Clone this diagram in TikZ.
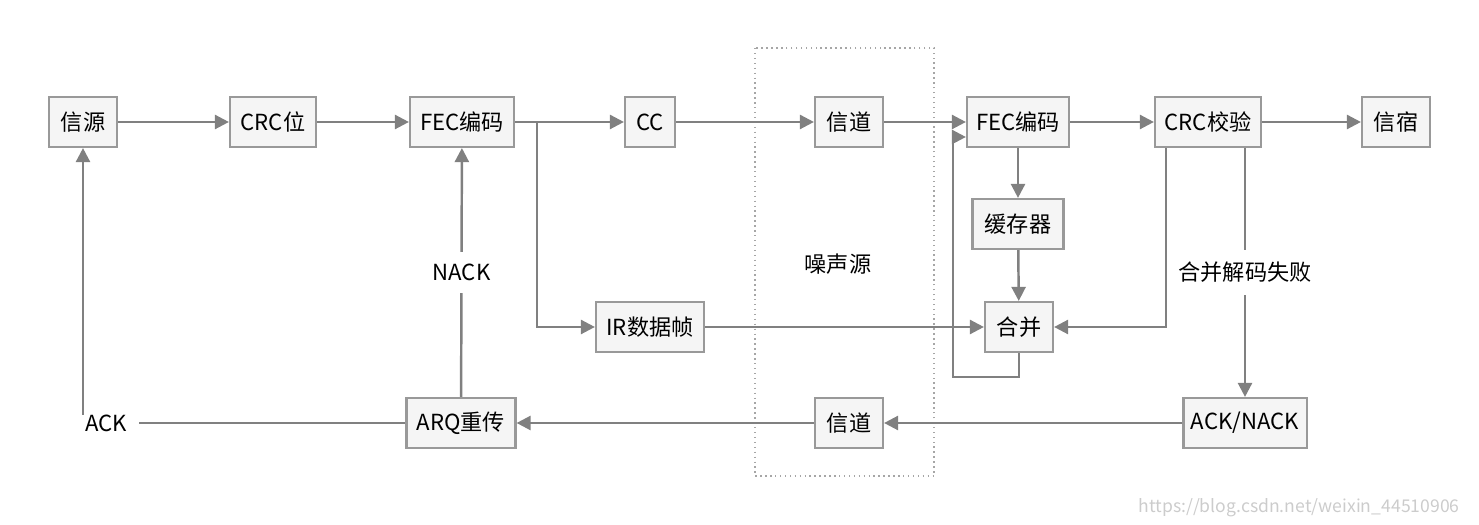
\documentclass[tikz,border=0pt]{standalone}
\usepackage{fontspec}
\setmainfont{Noto Sans CJK SC}
\usetikzlibrary{arrows.meta}
\begin{document}
\begin{tikzpicture}[x=0.01cm,y=-0.01cm,
    box/.style={draw=gray!80, line width=0.6pt, fill=gray!8, minimum height=0.5cm, inner sep=0pt, font=\fontsize{6.3}{8}\selectfont},
    txt/.style={font=\fontsize{6.3}{8}\selectfont},
    line/.style={draw=gray, line width=0.7pt},
    arr/.style={line, -{Triangle[length=4pt,width=4pt]}}]
        \useasboundingbox (0,0) rectangle (1479,525);
        \draw[gray!70, densely dotted] (755,48) rectangle (934,476);

        \node[box, minimum width=0.68cm] (src) at (83,122) {信源};
        \node[box, minimum width=0.86cm] (crc) at (273,122) {CRC位};
        \node[box, minimum width=1.04cm] (fec) at (462,122) {FEC编码};
        \node[box, minimum width=0.5cm] (cc) at (650,122) {CC};
        \node[box, minimum width=0.68cm] (ch) at (849,122) {信道};
        \node[box, minimum width=1.02cm] (dec) at (1018,122) {FEC编码};
        \node[box, minimum width=1.06cm] (chk) at (1208,122) {CRC校验};
        \node[box, minimum width=0.68cm] (sink) at (1396,122) {信宿};
        \node[box, minimum width=0.91cm] (buf) at (1018,224) {缓存器};
        \node[box, minimum width=0.68cm] (comb) at (1019,327) {合并};
        \node[box, minimum width=1.08cm] (ir) at (650,327) {IR数据帧};
        \node[box, minimum width=1.09cm] (arq) at (461,423) {ARQ重传};
        \node[box, minimum width=0.68cm] (back) at (849,423) {信道};
        \node[box, minimum width=1.23cm] (ack) at (1245,423) {ACK/NACK};

        \node[txt] (noise) at (838,264) {噪声源};
        \node[txt, fill=white] (ackl) at (106,423) {ACK};
        \node[txt, text=gray!40, font=\fontsize{5}{6}\selectfont, anchor=east] (mark) at (1472,508) {https://blog.csdn.net/weixin\_44510906};

        \draw[arr] (src) -- (crc);
        \draw[arr] (crc) -- (fec);
        \draw[arr] (fec) -- (cc);
        \draw[arr] (cc) -- (ch);
        \draw[arr] (ch) -- (dec);
        \draw[arr] (dec) -- (chk);
        \draw[arr] (chk) -- (sink);
        \draw[arr] (fec.east) -| (537,327) -- (ir);
        \draw[arr] (ir) -- (comb);
        \draw[arr] (dec) -- (buf);
        \draw[arr] (buf) -- (comb);
        \draw[arr] (comb.south) -- (1019,377) -| (953,137) -- (dec.west |- 0,137);
        \draw[arr] (chk.south -| 1166,0) |- (comb.east);
        \draw[arr] (chk.south -| 1245,0) -- node[txt, fill=white] {合并解码失败} (ack.north);
        \draw[arr] (ack) -- (back);
        \draw[arr] (back) -- (arq);
        \draw[arr] (arq) -- node[txt, fill=white] {NACK} (fec);
        \draw[line] (arq.west) -- (ackl.east);
        \draw[arr] (83,415) -- (src.south);
    \end{tikzpicture}
\end{document}
